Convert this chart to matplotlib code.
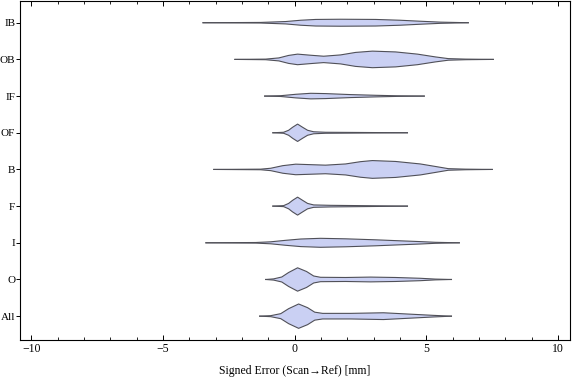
"""
Violin-style distribution chart of signed scan-to-reference error per region.
"""

import matplotlib
matplotlib.use("Agg")
import matplotlib.pyplot as plt
from matplotlib.ticker import MultipleLocator

plt.rcParams['font.family'] = ['Liberation Serif', 'DejaVu Serif']
plt.rcParams['font.size'] = 8.5

# ---------------------------------------------------------------------------
# Data (density profile per region: x positions in mm, density in arb. units)
# ---------------------------------------------------------------------------
CATEGORIES = ["All", "O", "I", "F", "B", "OF", "IF", "OB", "IB"]

ALL_X = [-1.33, -0.91, -0.53, -0.23, 0.15, 0.49, 0.76, 1.06, 2.12, 3.37, 4.39, 5.27, 5.95]
ALL_D = [0.0, 0.5, 2.5, 7.5, 12.2, 8.5, 4.0, 2.8, 2.8, 3.4, 2.0, 0.8, 0.0]

O_X = [-1.10, -0.80, -0.49, -0.23, 0.11, 0.45, 0.72, 0.98, 1.93, 2.88, 3.83, 4.77, 5.34, 5.95]
O_D = [0.0, 0.6, 2.5, 7.0, 11.7, 8.0, 3.5, 2.2, 2.0, 2.4, 2.0, 1.2, 0.4, 0.0]

I_X = [-3.37, -1.48, -0.91, -0.34, 0.23, 0.98, 1.93, 3.07, 4.00, 4.77, 5.34, 6.25]
I_D = [0.0, 0.3, 1.0, 2.5, 3.8, 4.5, 4.0, 3.0, 2.0, 1.2, 0.5, 0.0]

F_X = [-0.83, -0.42, -0.23, -0.08, 0.11, 0.30, 0.49, 0.72, 1.36, 2.50, 4.28]
F_D = [0.0, 0.5, 2.7, 5.8, 9.0, 5.8, 2.7, 1.2, 0.8, 0.5, 0.0]

B_X = [-3.07, -1.29, -0.91, -0.45, 0.04, 0.60, 1.17, 1.93, 2.50, 2.95, 3.83, 4.77, 5.45, 5.83, 6.48, 7.50]
B_D = [0.0, 0.3, 1.2, 3.8, 5.3, 4.8, 4.3, 5.5, 7.8, 8.9, 8.0, 5.5, 2.5, 0.8, 0.3, 0.0]

OF_X = [-0.83, -0.42, -0.23, -0.08, 0.11, 0.30, 0.49, 0.72, 1.17, 2.50, 4.28]
OF_D = [0.0, 0.5, 2.5, 5.5, 8.7, 5.5, 2.5, 1.0, 0.5, 0.3, 0.0]

IF_X = [-1.14, -0.53, 0.04, 0.61, 1.17, 2.12, 3.07, 3.90, 4.92]
IF_D = [0.0, 0.4, 1.8, 2.8, 2.5, 1.5, 0.8, 0.3, 0.0]

OB_X = [-2.27, -1.10, -0.60, -0.23, 0.11, 0.60, 1.10, 1.74, 2.31, 2.95, 3.83, 4.66, 5.34, 5.83, 6.48, 7.54]
OB_D = [0.0, 0.3, 1.5, 4.0, 5.3, 4.2, 3.2, 4.5, 7.0, 8.3, 7.5, 5.3, 2.5, 0.8, 0.3, 0.0]

IB_X = [-3.48, -1.29, -0.34, 0.23, 0.80, 1.74, 3.07, 4.00, 4.77, 5.53, 6.59]
IB_D = [0.0, 0.3, 1.2, 2.5, 3.3, 3.5, 3.3, 2.5, 1.5, 0.6, 0.0]

PROFILES = [(ALL_X, ALL_D), (O_X, O_D), (I_X, I_D), (F_X, F_D), (B_X, B_D),
            (OF_X, OF_D), (IF_X, IF_D), (OB_X, OB_D), (IB_X, IB_D)]

# ---------------------------------------------------------------------------
# Style
# ---------------------------------------------------------------------------
FILL = "#CAD0F3"
EDGE = "#505058"
WIDTH_SCALE = 1 / 36.75   # density units -> category spacing

fig = plt.figure(figsize=(5.76, 3.81), dpi=100)
ax = fig.add_axes([0.035, 0.1076, 0.9546, 0.8905])

for pos, (xs, ds) in enumerate(PROFILES, start=1):
    upper = [pos + d * WIDTH_SCALE for d in ds]
    lower = [pos - d * WIDTH_SCALE for d in ds]
    ax.fill_between(xs, lower, upper, facecolor=FILL, edgecolor="none", zorder=2)
    ax.plot(xs, upper, color=EDGE, lw=0.8, zorder=3)
    ax.plot(xs, lower, color=EDGE, lw=0.8, zorder=3)

ax.set_xlim(-10.42, 10.45)
ax.set_ylim(0.35, 9.6)

ax.set_yticks(range(1, len(CATEGORIES) + 1))
ax.set_yticklabels(CATEGORIES, fontsize=8)
ax.xaxis.set_major_locator(MultipleLocator(5))
ax.xaxis.set_minor_locator(MultipleLocator(1))
ax.tick_params(axis="x", which="both", direction="in", top=True, pad=2)
ax.tick_params(axis="x", which="major", length=3.3, width=0.7)
ax.tick_params(axis="x", which="minor", length=1.9, width=0.6)
ax.tick_params(axis="y", which="major", direction="out", length=3.0, width=0.7, pad=0.5)
ax.tick_params(axis="y", which="minor", left=False)

for s in ax.spines.values():
    s.set_linewidth(0.8)

ax.set_xlabel("Signed Error (Scan\u2192Ref) [mm]", labelpad=7)

fig.savefig("out.png", dpi=100, facecolor="white")
